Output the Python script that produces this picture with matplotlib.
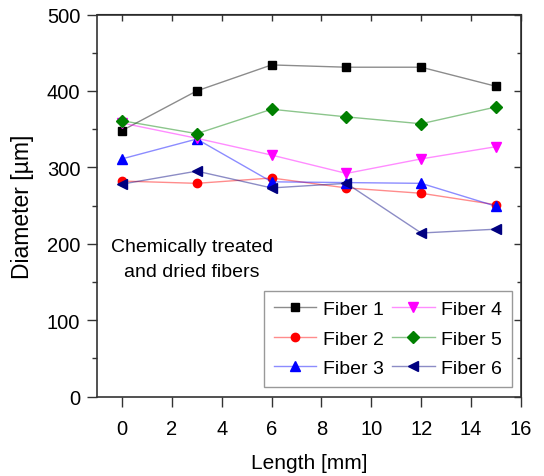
import matplotlib
matplotlib.use("Agg")
import matplotlib.pyplot as plt
from matplotlib.ticker import MultipleLocator
from matplotlib.colors import to_rgba

plt.rcParams['font.family'] = ['Liberation Sans', 'DejaVu Sans']

length = [0, 3, 6, 9, 12, 15]
fiber1 = [348, 400, 434, 431, 431, 406]
fiber2 = [282, 279, 286, 273, 266, 251]
fiber3 = [311, 337, 281, 280, 279, 249]
fiber4 = [358, 338, 316, 292, 311, 327]
fiber5 = [361, 344, 376, 366, 357, 379]
fiber6 = [278, 295, 273, 279, 214, 219]

series = [
    ("Fiber 1", fiber1, "black", "s"),
    ("Fiber 2", fiber2, "red", "o"),
    ("Fiber 3", fiber3, "blue", "^"),
    ("Fiber 4", fiber4, "magenta", "v"),
    ("Fiber 5", fiber5, "green", "D"),
    ("Fiber 6", fiber6, "navy", "<"),
]

fig = plt.figure(figsize=(5.44, 4.77), dpi=100)
ax = fig.add_axes([97/544, 1-397.5/477, (521-97)/544, (397.5-15.5)/477])

for name, vals, col, mk in series:
    lc = to_rgba(col, 0.45)
    ms = 6 if mk in ("s", "o", "D") else 7
    ax.plot(length, vals, color=lc, lw=1.0, marker=mk, markersize=ms,
            markerfacecolor=col, markeredgecolor=col, label=name)

ax.set_xlim(-1, 16)
ax.set_ylim(0, 500)
ax.xaxis.set_major_locator(MultipleLocator(2))
ax.yaxis.set_major_locator(MultipleLocator(100))
ax.yaxis.set_minor_locator(MultipleLocator(50))

ax.tick_params(axis='x', which='major', labelsize=14.5, direction='out', length=7, width=1, pad=9, colors='#333333', labelcolor='black')
ax.tick_params(axis='y', which='major', labelsize=14.5, direction='out', length=7, width=1, pad=5, colors='#333333', labelcolor='black')
ax.tick_params(axis='y', which='minor', direction='out', length=3.5, width=1, colors='#333333')
for s in ax.spines.values():
    s.set_color('#333333')
    s.set_linewidth(1.2)

# inward ticks on top and right
axt = ax.secondary_xaxis('top')
axt.xaxis.set_major_locator(MultipleLocator(2))
axt.tick_params(direction='in', length=5, width=1, labeltop=False, colors='#333333')
axr = ax.secondary_yaxis('right')
axr.yaxis.set_major_locator(MultipleLocator(100))
axr.yaxis.set_minor_locator(MultipleLocator(50))
axr.tick_params(which='major', direction='in', length=5, width=1, labelright=False, colors='#333333')
axr.tick_params(which='minor', direction='in', length=3, width=1, colors='#333333')

ax.set_xlabel("Length [mm]", fontsize=15, labelpad=11)
ax.set_ylabel("Diameter [µm]", fontsize=16.5, labelpad=9)

ax.text(2.8, 180, "Chemically treated\nand dried fibers", fontsize=14, ha='center', va='center', linespacing=1.6)

ax.legend(ncol=2, loc='lower right', bbox_to_anchor=(0.979, 0.025), fontsize=14,
          frameon=True, fancybox=False, edgecolor='#999999', framealpha=1,
          handlelength=2.2, columnspacing=0.4, handletextpad=0.35, labelspacing=0.62,
          borderpad=0.5, borderaxespad=0)

fig.savefig("out.png", dpi=100)
